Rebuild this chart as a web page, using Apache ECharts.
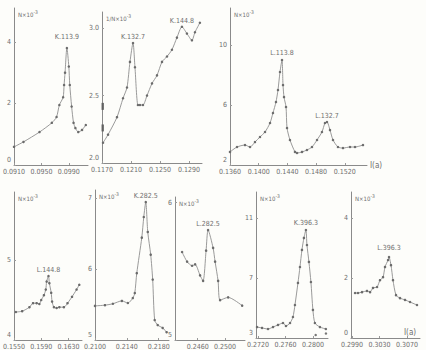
<!DOCTYPE html>
<html><head><meta charset="utf-8">
<script src="https://cdn.jsdelivr.net/npm/echarts@6/dist/echarts.min.js"></script>
<style>html,body{margin:0;padding:0;background:#fdfdfa;}#c{width:426px;height:350px;}</style>
</head><body><div id="c"></div>
<script>
// ---------- DATA ----------
// Panel A: K.113.9
const A_x = [0.09100,0.09238,0.09472,0.09652,0.09721,0.09762,0.09817,0.09831,0.09845,0.09872,0.09900,0.09914,0.09941,0.09969,0.09996,0.10038,0.10093,0.10148];
const A_y = [0.59,0.75,1.07,1.37,1.56,1.95,2.2,2.6,3.0,3.8,3.2,2.6,1.9,1.37,1.2,1.07,1.14,1.3];
const A_xt = [0.0910,0.0950,0.0990];
const A_yt = [0,2,4];
const A_peakIdx = [9];
const A_peakText = ['K.113.9'];
// Panel B: K.132.7 / K.144.8
const B_x = [0.11714,0.11783,0.11907,0.11990,0.12045,0.12086,0.12128,0.12155,0.12196,0.12224,0.12265,0.12321,0.12390,0.12459,0.12528,0.12597,0.12665,0.12734,0.12803,0.12872,0.12941,0.12983,0.13051];
const B_y = [2.15,2.21,2.34,2.48,2.56,2.75,2.89,2.71,2.43,2.43,2.43,2.5,2.59,2.65,2.75,2.79,2.84,2.93,3.01,2.96,2.91,2.97,3.04];
const B_xt = [0.1170,0.1210,0.1250,0.1290];
const B_yt = [2.0,2.5,3.0];
const B_peakIdx = [6,18];
const B_peakText = ['K.132.7','K.144.8'];
const B_markX = [0.1171,0.1171];
const B_markY = [2.42,2.26];
// Panel C: L.113.8 / L.132.7
const C_x = [0.13600,0.13698,0.13809,0.13879,0.13948,0.14018,0.14088,0.14158,0.14199,0.14241,0.14269,0.14297,0.14325,0.14339,0.14353,0.14381,0.14395,0.14436,0.14506,0.14534,0.14604,0.14673,0.14743,0.14813,0.14882,0.14924,0.14952,0.14994,0.15036,0.15105,0.15175,0.15273,0.15343,0.15454];
const C_y = [2.87,3.2,3.33,3.2,3.53,3.87,4.2,4.8,5.47,6.2,7.0,8.2,9.0,7.33,6.53,5.87,4.47,3.67,2.87,2.8,2.87,3.0,3.2,3.67,4.2,4.8,4.87,4.33,3.67,3.2,3.13,3.2,3.2,3.33];
const C_xt = [0.1360,0.1400,0.1440,0.1480,0.1520];
const C_yt = [2,6,10];
const C_peakIdx = [12,26];
const C_peakText = ['L.113.8','L.132.7'];
// Panel D: L.144.8
const D_x = [0.15527,0.15620,0.15727,0.15780,0.15833,0.15873,0.15900,0.15940,0.15967,0.15980,0.16007,0.16020,0.16047,0.16060,0.16087,0.16127,0.16167,0.16233,0.16287,0.16353,0.16420,0.16460];
const D_y = [4.35,4.36,4.41,4.46,4.46,4.45,4.5,4.56,4.63,4.73,4.8,4.71,4.59,4.48,4.41,4.4,4.41,4.41,4.46,4.54,4.63,4.69];
const D_xt = [0.1550,0.1590,0.1630];
const D_yt = [4,5];
const D_peakIdx = [10];
const D_peakText = ['L.144.8'];
// Panel E: K.282.5
const E_x = [0.21000,0.21125,0.21225,0.21338,0.21413,0.21475,0.21500,0.21525,0.21588,0.21613,0.21638,0.21663,0.21700,0.21725,0.21750,0.21788,0.21850,0.21900];
const E_y = [5.48,5.49,5.51,5.55,5.52,5.59,5.66,5.94,6.44,6.73,6.94,6.52,6.2,5.85,5.28,5.21,5.17,5.11];
const E_xt = [0.2100,0.2140,0.2180];
const E_yt = [5,6,7];
const E_peakIdx = [10];
const E_peakText = ['K.282.5'];
// Panel F: L.282.5
const F_x = [0.24373,0.24446,0.24519,0.24563,0.24635,0.24679,0.24723,0.24752,0.24825,0.24854,0.24898,0.24927,0.25044,0.25248];
const F_y = [5.64,5.57,5.54,5.55,5.47,5.43,5.65,5.8,5.67,5.57,5.43,5.29,5.31,5.25];
const F_xt = [0.2430,0.2460,0.2500];
const F_yt = [5,6];
const F_peakIdx = [7];
const F_peakText = ['L.282.5'];
// Panel G: K.396.3
const G_x = [0.27185,0.27258,0.27345,0.27418,0.27491,0.27564,0.27607,0.27666,0.27709,0.27738,0.27782,0.27811,0.27840,0.27869,0.27898,0.27913,0.27942,0.27971,0.28000,0.28029,0.28102,0.28189];
const G_y = [3.73,3.67,3.6,3.73,3.87,4.0,3.8,4.0,4.4,5.2,6.67,7.73,8.87,9.67,10.2,9.2,8.07,6.73,4.87,4.0,3.73,3.6];
const G_xt = [0.2720,0.2760,0.2800];
const G_yt = [3,7,11];
const G_peakIdx = [14];
const G_peakText = ['K.396.3'];
const G_extraX = [0.2804,0.2819];
const G_extraY = [3.2,3.3];
// Panel H: L.396.3
const H_x = [0.29944,0.29987,0.30045,0.30118,0.30162,0.30205,0.30264,0.30307,0.30351,0.30380,0.30424,0.30438,0.30467,0.30496,0.30540,0.30598,0.30671,0.30744,0.30845];
const H_y = [1.5,1.5,1.53,1.57,1.53,1.67,1.7,1.93,2.03,2.37,2.6,2.7,2.43,1.93,1.43,1.33,1.27,1.2,1.1];
const H_xt = [0.2990,0.3030,0.3070];
const H_yt = [0,2,4];
const H_peakIdx = [11];
const H_peakText = ['L.396.3'];

// ---------- LAYOUT ----------
const FONT = '"DejaVu Sans Condensed","Liberation Sans Narrow","DejaVu Sans",sans-serif';
const TXT = '#6e6e6e';
const panels = [
  {x:A_x,y:A_y,xt:A_xt,yt:A_yt,pi:A_peakIdx,pt:A_peakText,xr:[0.0910,0.1018],yr:[0,5.1],g:[10,8,78,157],yname:'N×10{s|-3}',yfmt:0,pd:[6]},
  {x:B_x,y:B_y,xt:B_xt,yt:B_yt,pi:B_peakIdx,pt:B_peakText,xr:[0.1170,0.1308],yr:[2.0,3.12],g:[102,12,100,151],yname:'1/N×10{s|-3}',yfmt:1,pd:[1,1],mx:B_markX,my:B_markY,msym:'rect',ms:[2.5,7]},
  {x:C_x,y:C_y,xt:C_xt,yt:C_yt,pi:C_peakIdx,pt:C_peakText,xr:[0.1360,0.1551],yr:[2,12.47],g:[230,8,137,157],yname:'N×10{s|-3}',yfmt:0,pd:[2,1],xname:'I(a)'},
  {x:D_x,y:D_y,xt:D_xt,yt:D_yt,pi:D_peakIdx,pt:D_peakText,xr:[0.1550,0.1650],yr:[4,5.85],g:[8,192,74,148],yname:'N×10{s|-3}',yfmt:0,pd:[1]},
  {x:E_x,y:E_y,xt:E_xt,yt:E_yt,pi:E_peakIdx,pt:E_peakText,xr:[0.2100,0.2193],yr:[5,7.11],g:[95,190,74,150],yname:'N×10{s|-3}',yfmt:0,pd:[1]},
  {x:F_x,y:F_y,xt:F_xt,yt:F_yt,pi:F_peakIdx,pt:F_peakText,xr:[0.2427,0.2529],yr:[5,6.04],g:[175,197,70,143],yname:'N×10{s|-3}',yfmt:0,pd:[1]},
  {x:G_x,y:G_y,xt:G_xt,yt:G_yt,pi:G_peakIdx,pt:G_peakText,xr:[0.2717,0.2822],yr:[3,12.73],g:[256,192,72,146],yname:'N×10{s|-3}',yfmt:0,pd:[2],mx:G_extraX,my:G_extraY,msym:'circle',ms:2.5},
  {x:H_x,y:H_y,xt:H_xt,yt:H_yt,pi:H_peakIdx,pt:H_peakText,xr:[0.29885,0.30889],yr:[0,4.87],g:[351,192,69,146],yname:'N×10{s|-3}',yfmt:0,pd:[4],xname:'I(a)',xnameInside:true}
];

const grid=[],xAxis=[],yAxis=[],series=[];
panels.forEach((p,k)=>{
  grid.push({left:p.g[0],top:p.g[1],width:p.g[2],height:p.g[3],containLabel:false});
  xAxis.push({
    type:'value',gridIndex:k,min:p.xr[0],max:p.xr[1],
    axisLine:{show:true,onZero:false,lineStyle:{color:'#8a8a8a',width:1}},
    axisTick:{show:true,inside:true,length:2,customValues:p.xt,lineStyle:{color:'#9a9a9a'}},
    axisLabel:{customValues:p.xt,formatter:v=>v.toFixed(4),fontSize:7,color:TXT,fontFamily:FONT,margin:3,hideOverlap:false},
    splitLine:{show:false},
    name:p.xname||'',nameLocation:'end',
    nameGap:p.xnameInside?-16:3,
    nameTextStyle:p.xnameInside?{fontSize:8,color:TXT,fontFamily:FONT,align:'left',verticalAlign:'bottom',padding:[0,0,2,0]}:{fontSize:8,color:TXT,fontFamily:FONT,verticalAlign:'middle',align:'left'}
  });
  yAxis.push({
    type:'value',gridIndex:k,min:p.yr[0],max:p.yr[1],
    axisLine:{show:true,onZero:false,lineStyle:{color:'#8a8a8a',width:1}},
    axisTick:{show:true,inside:true,length:2,customValues:p.yt,lineStyle:{color:'#9a9a9a'}},
    axisLabel:{customValues:p.yt,
      formatter:v=>{const t=v.toFixed(p.yfmt);return Math.abs(v-p.yr[0])<1e-9?'{m|'+t+'}':t;},
      fontSize:7,color:TXT,fontFamily:FONT,margin:3,hideOverlap:false,
      rich:{m:{fontSize:7,color:TXT,fontFamily:FONT,padding:[0,0,10,0]}}},
    splitLine:{show:false},
    name:p.yname,nameLocation:'end',nameGap:-6,
    nameTextStyle:{fontSize:6,color:TXT,fontFamily:FONT,align:'left',verticalAlign:'middle',padding:[0,0,0,4],
      rich:{s:{fontSize:5,color:TXT,fontFamily:FONT,verticalAlign:'top',padding:[0,0,4,0]}}}
  });
  const data=p.x.map((xv,i)=>[xv,p.y[i]]);
  series.push({
    type:'line',xAxisIndex:k,yAxisIndex:k,data:data,smooth:0.25,
    symbol:'circle',symbolSize:2.5,showSymbol:true,
    lineStyle:{color:'#8e8e8e',width:0.9},
    itemStyle:{color:'#6a6a6a'},
    label:{show:true,position:'top',
      formatter:(prm)=>{const j=p.pi.indexOf(prm.dataIndex);return j>=0?p.pt[j]:'';},
      distance:2,fontSize:7,color:TXT,fontFamily:FONT,textBorderWidth:0,textShadowBlur:0},
    labelLayout:(prm)=>{const j=p.pi.indexOf(prm.dataIndex);return j>=0?{dy:-(p.pd[j]-2)}:{};},
    emphasis:{disabled:true},animation:false
  });
  if(p.mx){
    series.push({type:'scatter',xAxisIndex:k,yAxisIndex:k,data:p.mx.map((xv,i)=>[xv,p.my[i]]),
      symbol:p.msym,symbolSize:p.ms,itemStyle:{color:'#555'},emphasis:{disabled:true},animation:false});
  }
});

const chart=echarts.init(document.getElementById('c'),null,{renderer:'svg'});
chart.setOption({backgroundColor:'#fdfdfa',animation:false,grid,xAxis,yAxis,series});
</script></body></html>
